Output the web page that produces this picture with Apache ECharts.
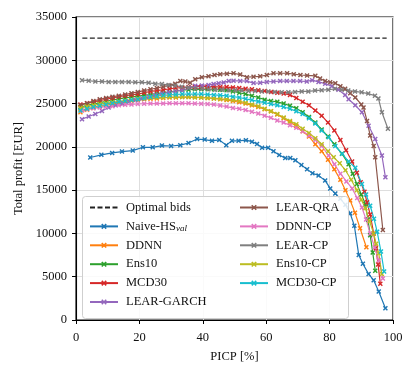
<!DOCTYPE html>
<html lang="en">
<head>
    <meta charset="UTF-8">
    <title>Total profit vs PICP</title>
    <style>
        html, body { margin: 0; padding: 0; background: #fff; }
        #main { width: 415px; height: 375px; }
    </style>
</head>
<body>
<div id="main"></div>
<script src="https://cdn.jsdelivr.net/npm/echarts@6/dist/echarts.min.js"></script>
<script>
    // [PICP %, total profit EUR]
    const optimalBids = [[2, 32550], [98, 32550]];
    const naiveHS = [[4.5,18770],[8,19080],[11.4,19300],[14.5,19460],[17.9,19570],[21.1,19950],[24.2,19950],[27.1,20150],[30,20100],[32.9,20200],[35.5,20450],[38.2,20900],[40.6,20840],[42.9,20700],[45.2,20800],[47.4,20200],[49.2,20700],[51.3,20700],[53.6,20770],[55.5,20600],[57.1,20340],[58.7,19900],[60.6,19900],[62.3,19500],[64.1,19070],[66,18700],[67.6,18700],[69.2,18450],[71.1,17900],[72.9,17400],[74.6,16950],[76.5,16700],[78.6,16100],[80.2,15200],[81.8,14600],[83.4,14000],[85,13300],[86.5,12300],[87.8,10900],[89.2,7500],[90.5,6500],[92.3,5300],[93.9,4600],[95.5,3300],[97.6,1350]];
    const ddnn = [[1.4,24000],[3.5,24300],[5.5,24500],[7.5,24650],[9.5,24800],[11.5,24950],[13.5,25100],[15.5,25200],[17.5,25300],[19.5,25400],[21.5,25500],[23.5,25550],[25.5,25600],[27.5,25650],[29.5,25700],[31.5,25700],[33.5,25750],[35.5,25750],[37.5,25750],[39.5,25700],[41.5,25650],[43.5,25600],[45.5,25500],[47.5,25400],[49.5,25300],[51.5,25150],[53.5,25000],[55.5,24800],[57.5,24600],[59.5,24350],[61.5,24100],[63.5,23750],[65.5,23300],[67.5,22850],[69.5,22400],[71.5,21800],[73.5,21200],[75.5,20300],[77.5,19500],[79.5,18500],[81.5,17400],[83.4,16200],[85,15000],[86.5,13800],[88,12400],[89.6,10600],[91.6,8400]];
    const ens10 = [[1.4,24600],[3.5,24800],[5.5,24950],[7.5,25100],[9.5,25250],[11.5,25400],[13.5,25550],[15.5,25650],[17.5,25750],[19.5,25850],[21.5,25950],[23.5,26050],[25.5,26150],[27.5,26250],[29.5,26350],[31.5,26450],[33.5,26550],[35.5,26600],[37.5,26650],[39.5,26650],[41.5,26650],[43.5,26650],[45.5,26600],[47.5,26550],[49.5,26400],[51.5,26250],[53.5,26100],[55.5,25900],[57.5,25700],[59.5,25450],[61.5,25300],[63.5,25200],[65.5,25000],[67.5,24750],[69.5,24450],[71.5,24000],[73.5,23450],[75.5,22800],[77.5,22000],[79.5,21200],[81.5,20300],[83.9,19200],[86,18000],[87.3,16900],[88.6,15700],[90,14500],[91.3,13400],[92.1,11600],[92.8,9800],[93.6,7800],[94.4,5700]];
    const mcd30 = [[1.4,24900],[3.5,25050],[5.5,25200],[7.5,25350],[9.5,25500],[11.5,25650],[13.5,25800],[15.5,25900],[17.5,26000],[19.5,26100],[21.5,26250],[23.5,26400],[25.5,26500],[27.5,26600],[29.5,26700],[31.5,26800],[33.5,26850],[35.5,26900],[37.5,26950],[39.5,26950],[41.5,26950],[43.5,26950],[45.5,26900],[47.5,26900],[49.5,26850],[51.5,26800],[53.5,26700],[55.5,26650],[57.5,26550],[59.5,26450],[61.5,26350],[63.5,26250],[65.5,26150],[67.5,26000],[69.5,25650],[71.5,25200],[73.5,24800],[75.5,24200],[77.5,23600],[79.5,22800],[81.5,21900],[83.4,20800],[85.2,19600],[87.1,18300],[88.6,17000],[89.8,15900],[91,14800],[91.8,13600],[92.8,12200],[93.9,10000],[94.6,8300],[95.3,6400],[96,4200]];
    const learGarch = [[1.9,23200],[4,23500],[6.1,23800],[8.2,24150],[10.3,24550],[12.5,24800],[14.6,25000],[16.7,25200],[18.8,25400],[20.9,25600],[23,25800],[25.1,26000],[27.2,26150],[29.3,26300],[31.4,26400],[33.5,26550],[35.6,26800],[37.6,27050],[39.7,27100],[41.8,27150],[43.4,27250],[45,27350],[46.6,27440],[48.2,27600],[49.7,27630],[51.8,27620],[53.9,27600],[56,27370],[58.1,27400],[60.2,27500],[62.3,27550],[64.4,27600],[66.5,27600],[68.6,27600],[70.7,27600],[72.8,27550],[74.5,27700],[76.5,27500],[78.6,27300],[80.7,27000],[82.8,26600],[84.9,26000],[86,25500],[88.1,24800],[90.2,24000],[92.3,22450],[94.4,20900],[96.5,19000],[97.6,16500]];
    const learQra = [[1.4,24800],[3.5,25050],[5.5,25300],[7.5,25500],[9.5,25650],[11.5,25800],[13.5,25900],[15.5,26050],[17.5,26200],[19.5,26350],[21.5,26500],[23.5,26650],[25.5,26800],[27.5,26950],[29.5,27100],[31.3,27300],[32.9,27600],[34.5,27550],[36,27400],[37.6,27800],[39.7,28050],[41.8,28150],[43.7,28300],[45.5,28400],[47.6,28450],[49.7,28500],[51.8,28350],[53.9,28050],[56,28100],[58.1,28150],[60.2,28300],[62.3,28500],[64.4,28500],[66.6,28500],[68.7,28400],[70.8,28300],[72.9,28250],[75.5,28200],[77,27900],[78.6,27600],[80.2,27450],[81.8,27350],[83.4,27000],[84.9,26700],[86.5,26200],[88.1,25700],[90,24900],[90.7,24560],[91.8,23000],[92.8,21300],[93.9,20100],[94.4,18800],[96.8,10400]];
    const ddnnCp = [[1.9,24200],[3.5,24350],[5.5,24450],[7.5,24550],[9.5,24650],[11.5,24700],[13.5,24800],[15.5,24850],[17.5,24900],[19.5,24950],[21.5,24980],[23.5,25000],[25.5,25000],[27.5,25020],[29.5,25030],[31.5,25030],[33.5,25030],[35.5,25030],[37.5,25000],[39.5,24980],[41.5,24950],[43.5,24880],[45.5,24780],[47.5,24650],[49.5,24500],[51.5,24400],[53.5,24250],[55.5,24050],[57.5,23850],[59.5,23600],[61.5,23350],[63.5,23050],[65.5,22800],[67.5,22500],[69.5,22200],[71.5,21800],[73.5,21300],[75.5,20800],[77.5,20100],[79.7,19000],[81.5,18000],[83.4,16900],[85.3,16000],[87.1,15200],[88.7,14100],[90.2,13000],[91.5,11600],[92.8,10000],[94.2,8400],[95.5,6900],[96.8,4800]];
    const learCp = [[1.9,27700],[4,27650],[6.1,27550],[8.2,27550],[10.3,27500],[12.4,27500],[14.5,27500],[16.6,27500],[18.7,27450],[20.8,27450],[22.9,27400],[25,27300],[27.1,27250],[29.2,27150],[31.3,27050],[33.4,26950],[35.5,26850],[37.6,26750],[39.7,26700],[41.8,26650],[43.9,26600],[46,26600],[48.1,26550],[50.2,26550],[52.3,26500],[54.4,26450],[56.5,26450],[58.6,26400],[60.7,26400],[62.8,26350],[64.9,26300],[67,26300],[69.1,26350],[71.2,26400],[73.3,26400],[75.4,26500],[77.5,26550],[79.6,26600],[81.7,26700],[83.8,26600],[85.9,26500],[88,26400],[90.1,26300],[92.2,26150],[94.3,25900],[95.4,25600],[96.5,24000],[98.4,22100]];
    const ens10Cp = [[1.4,24500],[3.5,24650],[5.5,24800],[7.5,24950],[9.5,25050],[11.5,25150],[13.5,25250],[15.5,25350],[17.5,25450],[19.5,25550],[21.5,25600],[23.5,25650],[25.5,25700],[27.5,25700],[29.5,25750],[31.5,25750],[33.5,25750],[35.5,25750],[37.5,25700],[39.5,25700],[41.5,25650],[43.5,25600],[45.5,25550],[47.5,25500],[49.5,25400],[51.5,25300],[53.5,25100],[55.5,24900],[57.5,24700],[59.5,24400],[61.5,24100],[63.5,23800],[65.5,23400],[67.5,23000],[69.5,22600],[71.5,22100],[73.5,21600],[75.5,21000],[77.5,20300],[79.5,19500],[81.3,18800],[83.2,18100],[85,17300],[86.8,16200],[88.6,15000],[90,13900],[91.3,12900],[92.6,11400],[93.9,10000],[94.7,8800],[95.5,7700],[96.5,5300]];
    const mcd30Cp = [[1.4,24200],[3.5,24400],[5.5,24600],[7.5,24750],[9.5,24900],[11.5,25050],[13.5,25200],[15.5,25300],[17.5,25400],[19.5,25500],[21.5,25650],[23.5,25750],[25.5,25850],[27.5,25950],[29.5,26000],[31.5,26050],[33.5,26100],[35.5,26100],[37.5,26100],[39.5,26100],[41.5,26050],[43.5,26000],[45.5,25950],[47.5,25900],[49.5,25800],[51.5,25700],[53.5,25550],[55.5,25400],[57.5,25250],[59.5,25100],[61.5,24950],[63.5,24800],[65.5,24600],[67.5,24400],[69.5,24100],[71.5,23800],[73.5,23300],[75.5,22700],[77.5,21900],[79.7,21100],[81.8,20100],[84,19200],[86,18300],[88.1,17600],[90.2,15700],[91.5,14500],[92.8,13200],[94,11700],[95,10200],[96.2,7900],[97.2,5600]];

    const font = '"Liberation Serif", "DejaVu Serif", serif';
    const marker = 'path://M0,2L2,0L5,3L8,0L10,2L7,5L10,8L8,10L5,7L2,10L0,8L3,5Z';

    const methods = [
        { name: 'Naive-HS_val', data: naiveHS, color: '#1f77b4' },
        { name: 'DDNN', data: ddnn, color: '#ff7f0e' },
        { name: 'Ens10', data: ens10, color: '#2ca02c' },
        { name: 'MCD30', data: mcd30, color: '#d62728' },
        { name: 'LEAR-GARCH', data: learGarch, color: '#9467bd' },
        { name: 'LEAR-QRA', data: learQra, color: '#8c564b' },
        { name: 'DDNN-CP', data: ddnnCp, color: '#e377c2' },
        { name: 'LEAR-CP', data: learCp, color: '#7f7f7f' },
        { name: 'Ens10-CP', data: ens10Cp, color: '#bcbd22' },
        { name: 'MCD30-CP', data: mcd30Cp, color: '#17becf' }
    ];

    const series = [{
        name: 'Optimal bids',
        type: 'line',
        data: optimalBids,
        symbol: 'none',
        color: '#222',
        lineStyle: { width: 1.3, type: [5, 2.5], color: '#222' },
        z: 3
    }].concat(methods.map(m => ({
        name: m.name,
        type: 'line',
        data: m.data,
        symbol: marker,
        symbolSize: 5,
        color: m.color,
        itemStyle: { color: m.color },
        lineStyle: { width: 1.2, color: m.color },
        emphasis: { disabled: true },
        z: 2
    })));

    const legendBase = {
        orient: 'vertical',
        itemWidth: 28,
        itemHeight: 7,
        itemGap: 3.9,
        selectedMode: false,
        z: 5,
        textStyle: {
            fontFamily: font, fontSize: 12.5, color: '#111', padding: [0, 0, 0, 3], height: 15, lineHeight: 15,
            rich: { sub: { fontFamily: font, fontSize: 9, fontStyle: 'italic', color: '#111', padding: [5, 0, 0, 0] } }
        },
        formatter: name => name === 'Naive-HS_val' ? 'Naive-HS{sub|val}' : name
    };

    const myChart = echarts.init(document.getElementById('main'), null, { renderer: 'canvas' });
    myChart.setOption({
        animation: false,
        grid: { left: 76, right: 22, top: 17, bottom: 55, show: true, borderColor: '#000', borderWidth: 1.1 },
        xAxis: {
            type: 'value', min: 0, max: 100, interval: 20,
            name: 'PICP [%]', nameLocation: 'middle', nameGap: 30,
            nameTextStyle: { fontFamily: font, fontSize: 12.5, color: '#111' },
            axisLine: { lineStyle: { color: '#000', width: 1.1 } },
            axisTick: { length: 4, lineStyle: { color: '#000' } },
            axisLabel: { fontFamily: font, fontSize: 12.5, color: '#111', margin: 11 },
            splitLine: { lineStyle: { color: '#dedede', width: 1 } }
        },
        yAxis: {
            type: 'value', min: 0, max: 35000, interval: 5000,
            name: 'Total profit [EUR]', nameLocation: 'middle', nameGap: 51,
            nameTextStyle: { fontFamily: font, fontSize: 12.5, color: '#111' },
            axisLine: { show: true, lineStyle: { color: '#000', width: 1.1 } },
            axisTick: { show: true, length: 4, lineStyle: { color: '#000' } },
            axisLabel: { fontFamily: font, fontSize: 12.5, color: '#111', margin: 9,
                formatter: v => String(v) },
            splitLine: { lineStyle: { color: '#dedede', width: 1 } }
        },
        graphic: [{
            type: 'rect', z: 4,
            shape: { x: 82.5, y: 196.5, width: 266, height: 122, r: 3 },
            style: { fill: 'rgba(255,255,255,0.85)', stroke: '#cfcfcf', lineWidth: 1 }
        }],
        legend: [
            Object.assign({}, legendBase, { left: 84, top: 195,
                data: [{ name: 'Optimal bids', itemStyle: { opacity: 0 } }, 'Naive-HS_val', 'DDNN', 'Ens10', 'MCD30', 'LEAR-GARCH'] }),
            Object.assign({}, legendBase, { left: 234, top: 195,
                data: ['LEAR-QRA', 'DDNN-CP', 'LEAR-CP', 'Ens10-CP', 'MCD30-CP'] })
        ],
        series: series
    });
</script>
</body>
</html>
